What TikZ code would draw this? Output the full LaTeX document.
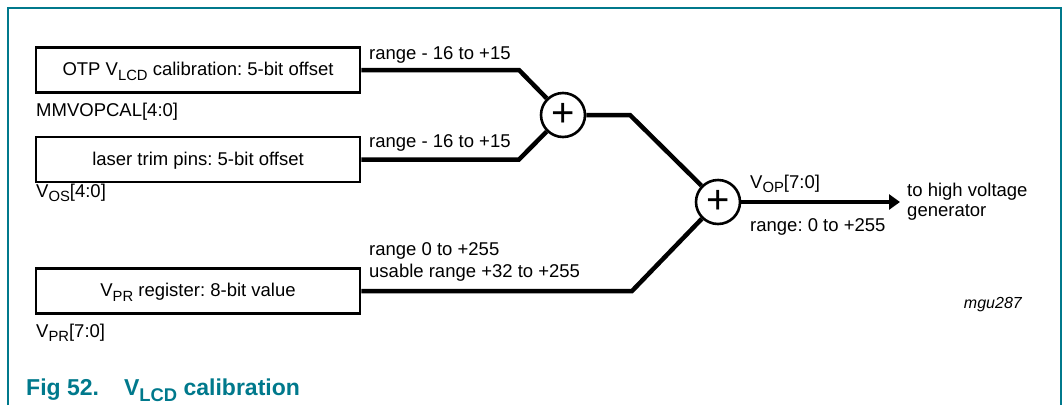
\documentclass[tikz,border=0pt]{standalone}
\usepackage{fontspec}
\setmainfont{Liberation Sans}
\usetikzlibrary{arrows.meta}
\definecolor{nxpteal}{RGB}{0,121,140}
\newcommand\lsub[1]{\raisebox{-0.25em}{\scalebox{0.8}{#1}}}
\frenchspacing
\begin{document}
\begin{tikzpicture}[x=1pt,y=-1pt,
  blk/.style={draw,line width=2.6pt,minimum width=324pt,minimum height=45pt,inner sep=0pt,
    font=\fontsize{18.5}{22}\selectfont,text height=13pt,text depth=2pt},
  lbl/.style={font=\fontsize{18.5}{22}\selectfont,inner sep=0pt,anchor=base west},
  sumnode/.style={circle,draw,line width=2.6pt,minimum size=44pt,inner sep=0pt,
    font=\fontsize{40}{40}\selectfont},
  wire/.style={line width=4.5pt,line join=miter}]
\useasboundingbox (0,0) rectangle (1064,405);
\draw[nxpteal,line width=1.5pt] (8,405) -- (8,8) -- (1061,8) -- (1061,405);

\node[blk] (otp) at (198,70) {OTP V\lsub{LCD} calibration: 5-bit offset};
\node[blk] (laser) at (198,159.5) {laser trim pins: 5-bit offset};
\node[blk] (vpr) at (198,291) {V\lsub{PR} register: 8-bit value};

\node[lbl] (mmv) at (36,116) {MMVOPCAL[4:0]};
\node[lbl] (vos) at (36,197) {V\lsub{OS}[4:0]};
\node[lbl] (vprl) at (36,337) {V\lsub{PR}[7:0]};

\node[sumnode] (s1) at (563,115) {\raisebox{-2.3pt}{+}};
\node[sumnode] (s2) at (718,202) {\raisebox{-2.3pt}{+}};

\coordinate (k1) at (519,70);
\coordinate (k2) at (519,159.5);
\coordinate (k3) at (630,115);
\coordinate (k4) at (632,291);
\coordinate (out) at (900,202);

\draw[wire] (otp.east) -- (k1) -- (s1);
\draw[wire] (laser.east) -- (k2) -- (s1);
\draw[wire] (s1) -- (k3) -- (s2);
\draw[wire] (vpr.east) -- (k4) -- (s2);
\draw[wire,-{Triangle[length=11pt,width=15pt]}] (s2) -- (out);

\node[lbl] (r1) at (369,59) {range - 16 to +15};
\node[lbl] (r2) at (369,147) {range - 16 to +15};
\node[lbl] (r3a) at (369,255) {range 0 to +255};
\node[lbl] (r3b) at (369,277) {usable range +32 to +255};
\node[lbl] (vop) at (750,188) {V\lsub{OP}[7:0]};
\node[lbl] (r4) at (750,231.5) {range: 0 to +255};
\node[lbl] (hv1) at (907,196.5) {to high voltage};
\node[lbl] (hv2) at (907,216.5) {generator};

\node[font=\fontsize{16}{16}\selectfont\itshape,anchor=base east,inner sep=0pt] (code) at (1022,308) {mgu287};
\node[font=\fontsize{23}{23}\selectfont\bfseries,text=nxpteal,anchor=base west,inner sep=0pt] (cap) at (26,395.5) {Fig 52.\hspace{25pt}V\lsub{LCD} calibration};
\end{tikzpicture}
\end{document}
